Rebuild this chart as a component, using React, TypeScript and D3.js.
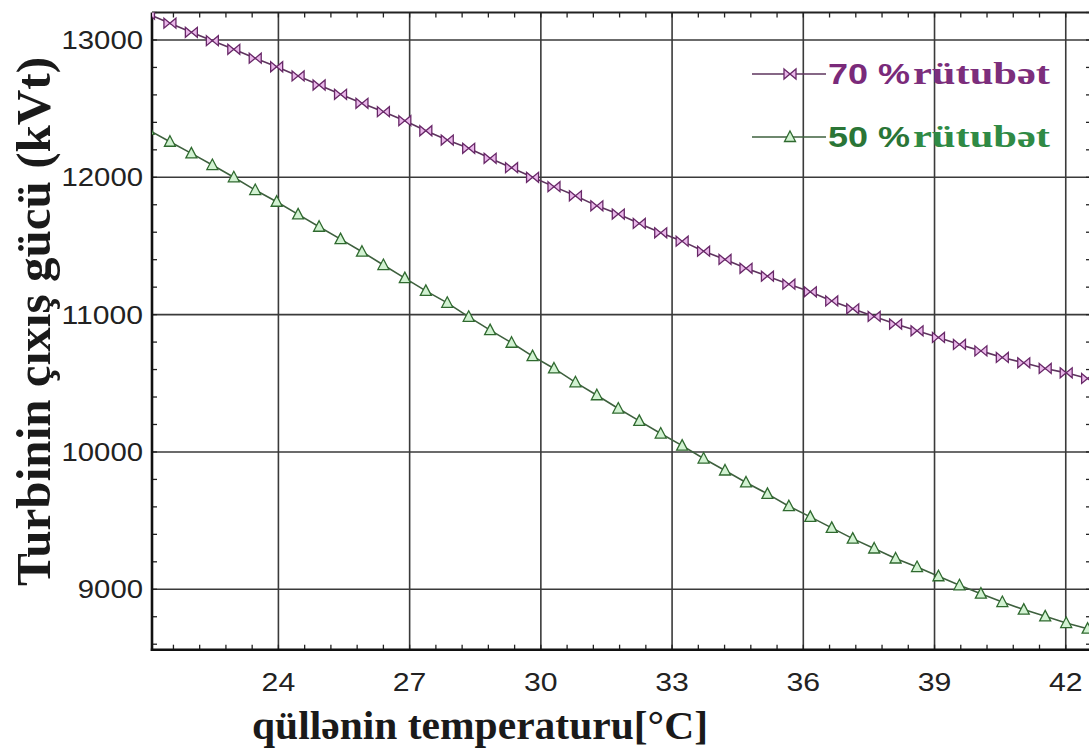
import { useEffect, useRef } from 'react'
import * as d3 from 'd3'

// tower temperature (°C), one entry per marker
const temps = [
  21.03, 21.52, 22.01, 22.49, 22.98, 23.47, 23.96, 24.45, 24.93, 25.42,
  25.91, 26.40, 26.89, 27.37, 27.86, 28.35, 28.84, 29.33, 29.81, 30.30,
  30.79, 31.28, 31.77, 32.25, 32.74, 33.23, 33.72, 34.21, 34.69, 35.18,
  35.67, 36.16, 36.65, 37.13, 37.62, 38.11, 38.60, 39.09, 39.57, 40.06,
  40.55, 41.04, 41.53, 42.01, 42.50, 42.99
]

// turbine output power (kVt) at 70 % humidity
const power70 = [
  13188, 13122, 13056, 12995, 12932, 12867, 12805, 12738, 12672, 12604,
  12539, 12478, 12412, 12339, 12271, 12211, 12138, 12070, 12000, 11932,
  11865, 11792, 11732, 11664, 11596, 11535, 11462, 11402, 11337, 11280,
  11222, 11166, 11100, 11042, 10987, 10931, 10882, 10834, 10783, 10736,
  10688, 10649, 10608, 10576, 10535, 10500
]

// turbine output power (kVt) at 50 % humidity
const power50 = [
  12345, 12259, 12174, 12089, 12000, 11907, 11822, 11730, 11640, 11550,
  11458, 11361, 11266, 11173, 11086, 10984, 10887, 10795, 10698, 10608,
  10507, 10413, 10316, 10226, 10134, 10046, 9952, 9865, 9778, 9695,
  9605, 9527, 9447, 9369, 9297, 9224, 9162, 9095, 9029, 8968,
  8907, 8852, 8803, 8754, 8713, 8675
]

const xTicks = [24, 27, 30, 33, 36, 39, 42]
const yTicks = [9000, 10000, 11000, 12000, 13000]
const legendPct = ['70 %', '50 %']
const legendWord = 'rütubət'

export default function App() {
  const canvas = useRef<SVGSVGElement | null>(null)

  useEffect(() => {
    const width = 1089
    const height = 754
    const left = 152
    const right = 1092
    const top = 12.5
    const bottom = 649.7

    const svg = d3.select(canvas.current)
    svg.selectAll('*').remove()
    svg.attr('width', width).attr('height', height)

    svg.append('rect').attr('width', width).attr('height', height).attr('fill', '#fff')

    const x = d3.scaleLinear().domain([21.11, 42.6]).range([left, right])
    const y = d3.scaleLinear().domain([8560, 13200]).range([bottom, top])

    svg.append('clipPath').attr('id', 'plot')
      .append('rect')
      .attr('x', left).attr('y', top)
      .attr('width', right - left).attr('height', bottom - top)

    // grid
    const grid = svg.append('g').attr('stroke', '#3a3a3a').attr('stroke-width', 1.6)
    grid.selectAll('.gx').data(xTicks).join('line')
      .attr('x1', d => x(d)).attr('x2', d => x(d))
      .attr('y1', top).attr('y2', bottom)
    grid.selectAll('.gy').data(yTicks).join('line')
      .attr('x1', left).attr('x2', right)
      .attr('y1', d => y(d)).attr('y2', d => y(d))

    // minor ticks
    const xMinor = d3.range(21.6, 42.6, 0.6)
    const yMinor = d3.range(8600, 13201, 200)
    const minor = svg.append('g').attr('stroke', '#222').attr('stroke-width', 1.3)
    minor.selectAll('.mb').data(xMinor).join('line')
      .attr('x1', d => x(d)).attr('x2', d => x(d))
      .attr('y1', bottom).attr('y2', bottom - 5)
    minor.selectAll('.mt').data(xMinor).join('line')
      .attr('x1', d => x(d)).attr('x2', d => x(d))
      .attr('y1', top).attr('y2', top + 5)
    minor.selectAll('.ml').data(yMinor).join('line')
      .attr('x1', left).attr('x2', left + 5)
      .attr('y1', d => y(d)).attr('y2', d => y(d))
    minor.selectAll('.mr').data(yMinor).join('line')
      .attr('x1', right).attr('x2', right - 6)
      .attr('y1', d => y(d)).attr('y2', d => y(d))

    // frame
    svg.append('line').attr('x1', left).attr('x2', right).attr('y1', top).attr('y2', top)
      .attr('stroke', '#222').attr('stroke-width', 2)
    svg.append('line').attr('x1', left).attr('x2', left).attr('y1', top).attr('y2', bottom + 1.2)
      .attr('stroke', '#111').attr('stroke-width', 2.6)
    svg.append('line').attr('x1', left - 1.2).attr('x2', right).attr('y1', bottom).attr('y2', bottom)
      .attr('stroke', '#111').attr('stroke-width', 2.6)

    // tick labels (the source picture is stretched sideways, so widen the digits)
    svg.append('g').selectAll('text').data(yTicks).join('text')
      .attr('x', d => 143 - String(d).length * 16.3).attr('y', d => y(d) + 9)
      .attr('textLength', d => String(d).length * 16.3)
      .attr('lengthAdjust', 'spacingAndGlyphs')
      .style('font-family', '"Liberation Sans", Arial, sans-serif')
      .style('font-size', '25px')
      .attr('fill', '#222')
      .text(d => d)
    svg.append('g').selectAll('text').data(xTicks).join('text')
      .attr('x', d => x(d) - 16.8).attr('y', 691)
      .attr('textLength', 33.6)
      .attr('lengthAdjust', 'spacingAndGlyphs')
      .style('font-family', '"Liberation Sans", Arial, sans-serif')
      .style('font-size', '25px')
      .attr('fill', '#222')
      .text(d => d)

    // axis titles
    svg.append('text')
      .attr('x', 252).attr('y', 739)
      .attr('textLength', 456).attr('lengthAdjust', 'spacingAndGlyphs')
      .style('font-family', '"Liberation Serif", "Times New Roman", serif')
      .style('font-weight', 'bold').style('font-size', '41px')
      .attr('fill', '#1a1a1a')
      .text('qüllənin temperaturu[°C]')
    svg.append('text')
      .attr('transform', 'translate(50, 586) rotate(-90)')
      .attr('textLength', 529).attr('lengthAdjust', 'spacingAndGlyphs')
      .style('font-family', '"Liberation Serif", "Times New Roman", serif')
      .style('font-weight', 'bold').style('font-size', '48px')
      .attr('fill', '#1a1a1a')
      .text('Turbinin çıxış gücü (kVt)')

    const bowtie = 'M-6,-5L6,5L6,-5L-6,5Z'
    const triangle = 'M0,-6L5.5,4.5L-5.5,4.5Z'

    const series = [
      { values: power70, line: '#5e345e', mark: '#682868', fill: '#eab8ea', shape: bowtie },
      { values: power50, line: '#3e603e', mark: '#2f6a2f', fill: '#d2f2d2', shape: triangle }
    ]

    const plot = svg.append('g').attr('clip-path', 'url(#plot)')
    const line = d3.line<number>().x((_, i) => x(temps[i])).y(d => y(d))

    series.forEach(s => {
      plot.append('path')
        .attr('d', line(s.values))
        .attr('fill', 'none')
        .attr('stroke', s.line)
        .attr('stroke-width', 1.6)
      plot.append('g').selectAll('path').data(s.values).join('path')
        .attr('transform', (d, i) => `translate(${x(temps[i])},${y(d)})`)
        .attr('d', s.shape)
        .attr('fill', s.fill)
        .attr('stroke', s.mark)
        .attr('stroke-width', 1.3)
    })

    // legend
    const legendY = [74, 137]
    const legendCol = [
      { pct: '#7a2a7a', word: '#7c2e7c' },
      { pct: '#2a7536', word: '#2f8a45' }
    ]
    legendPct.forEach((label, i) => {
      const s = series[i]
      const g = svg.append('g')
      g.append('line')
        .attr('x1', 752).attr('x2', 826)
        .attr('y1', legendY[i]).attr('y2', legendY[i])
        .attr('stroke', s.line).attr('stroke-width', 1.6)
      g.append('path')
        .attr('transform', `translate(790,${legendY[i]})`)
        .attr('d', s.shape)
        .attr('fill', s.fill).attr('stroke', s.mark).attr('stroke-width', 1.3)
      g.append('text')
        .attr('x', 828).attr('y', legendY[i] + 10)
        .attr('textLength', 82).attr('lengthAdjust', 'spacingAndGlyphs')
        .style('font-family', '"Liberation Sans", Arial, sans-serif')
        .style('font-weight', 'bold').style('font-size', '29px')
        .attr('fill', legendCol[i].pct)
        .text(label)
      g.append('text')
        .attr('x', 913).attr('y', legendY[i] + 10)
        .attr('textLength', 137).attr('lengthAdjust', 'spacingAndGlyphs')
        .style('font-family', '"Liberation Serif", "Times New Roman", serif')
        .style('font-weight', 'bold').style('font-size', '32px')
        .attr('fill', legendCol[i].word)
        .text(legendWord)
    })
  }, [])

  return (
    <div style={{ position: 'absolute', left: 0, top: 0 }}>
      <svg ref={canvas} style={{ display: 'block' }}></svg>
    </div>
  )
}
